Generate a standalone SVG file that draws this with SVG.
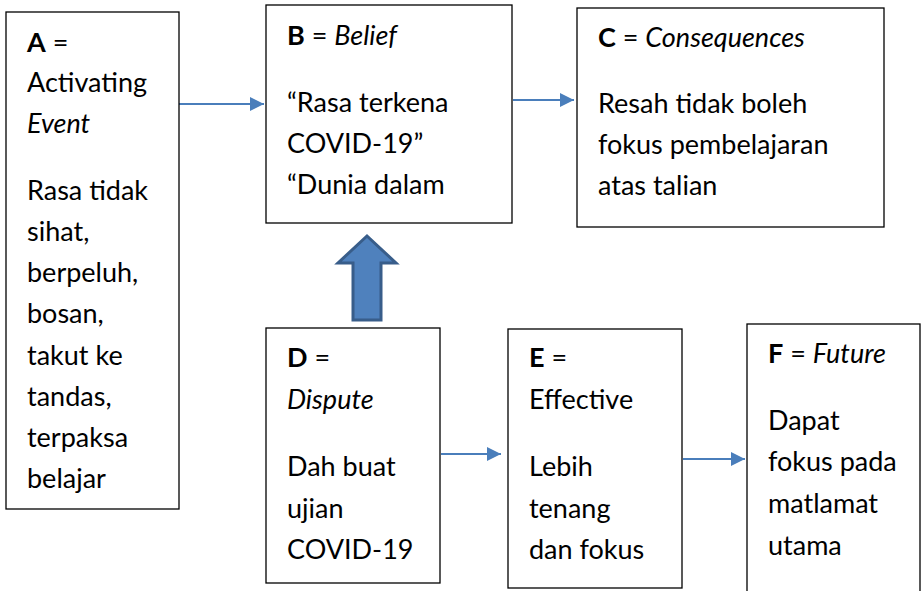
<svg xmlns="http://www.w3.org/2000/svg" width="923" height="591" viewBox="0 0 923 591">
<defs>
<style>
.box{fill:#fff;stroke:#000;stroke-width:1.3}
text{font-family:Lato,"Open Sans","Liberation Sans",sans-serif;font-size:27px;fill:#000}
.b{font-weight:bold}
.i{font-style:italic}
.conn{stroke:#4a7ebb;stroke-width:2;fill:none}
</style>
<marker id="ah" markerWidth="14" markerHeight="14" refX="14" refY="7" orient="auto" markerUnits="userSpaceOnUse">
<path d="M0,0 L14,7 L0,14 z" fill="#4a7ebb"/>
</marker>
<clipPath id="clipB"><rect x="266" y="5" width="246" height="218"/></clipPath>
<clipPath id="clipF"><rect x="747" y="324" width="173" height="267"/></clipPath>
</defs>
<g id="connectors">
<line class="conn" x1="179" y1="104" x2="264" y2="104" marker-end="url(#ah)"/>
<line class="conn" x1="513" y1="100" x2="574" y2="100" marker-end="url(#ah)"/>
<line class="conn" x1="441" y1="454" x2="501" y2="454" marker-end="url(#ah)"/>
<line class="conn" x1="683" y1="459" x2="745" y2="459" marker-end="url(#ah)"/>
<path id="blockArrow" d="M367,236 L396,263 L381,263 L381,320 L353,320 L353,263 L338,263 Z" fill="#4f81bd" stroke="#385d8a" stroke-width="3" stroke-linejoin="miter"/>
</g>
<g id="nodeA">
<rect class="box" x="6" y="12" width="173" height="497"/>
<text x="27" y="52"><tspan class="b">A</tspan> =</text>
<text x="27" y="92">Activating</text>
<text x="27" y="133" class="i">Event</text>
<text x="27" y="200">Rasa tidak</text>
<text x="27" y="241">sihat,</text>
<text x="27" y="282">berpeluh,</text>
<text x="27" y="323">bosan,</text>
<text x="27" y="365">takut ke</text>
<text x="27" y="406">tandas,</text>
<text x="27" y="447">terpaksa</text>
<text x="27" y="488">belajar</text>
</g>
<g id="nodeB">
<rect class="box" x="266" y="5" width="246" height="218"/>
<g clip-path="url(#clipB)">
<text x="287" y="45"><tspan class="b">B</tspan> = <tspan class="i">Belief</tspan></text>
<text x="287" y="112">“Rasa terkena</text>
<text x="287" y="153">COVID-19”</text>
<text x="287" y="194">“Dunia dalam</text>
</g>
</g>
<g id="nodeC">
<rect class="box" x="577" y="8" width="307" height="219"/>
<text x="598" y="47"><tspan class="b">C</tspan> = <tspan class="i">Consequences</tspan></text>
<text x="598" y="113">Resah tidak boleh</text>
<text x="598" y="154">fokus pembelajaran</text>
<text x="598" y="195">atas talian</text>
</g>
<g id="nodeD">
<rect class="box" x="266" y="328" width="174" height="255"/>
<text x="287" y="367"><tspan class="b">D</tspan> =</text>
<text x="287" y="409" class="i">Dispute</text>
<text x="287" y="476">Dah buat</text>
<text x="287" y="518">ujian</text>
<text x="287" y="559">COVID-19</text>
</g>
<g id="nodeE">
<rect class="box" x="508" y="329" width="174" height="259"/>
<text x="529" y="367"><tspan class="b">E</tspan> =</text>
<text x="529" y="409">Effective</text>
<text x="529" y="476">Lebih</text>
<text x="529" y="518">tenang</text>
<text x="529" y="559">dan fokus</text>
</g>
<g id="nodeF">
<rect class="box" x="747" y="324" width="173" height="280"/>
<text x="768" y="363"><tspan class="b">F</tspan> = <tspan class="i">Future</tspan></text>
<text x="768" y="430">Dapat</text>
<text x="768" y="471">fokus pada</text>
<text x="768" y="513">matlamat</text>
<text x="768" y="555">utama</text>
</g>
</svg>
